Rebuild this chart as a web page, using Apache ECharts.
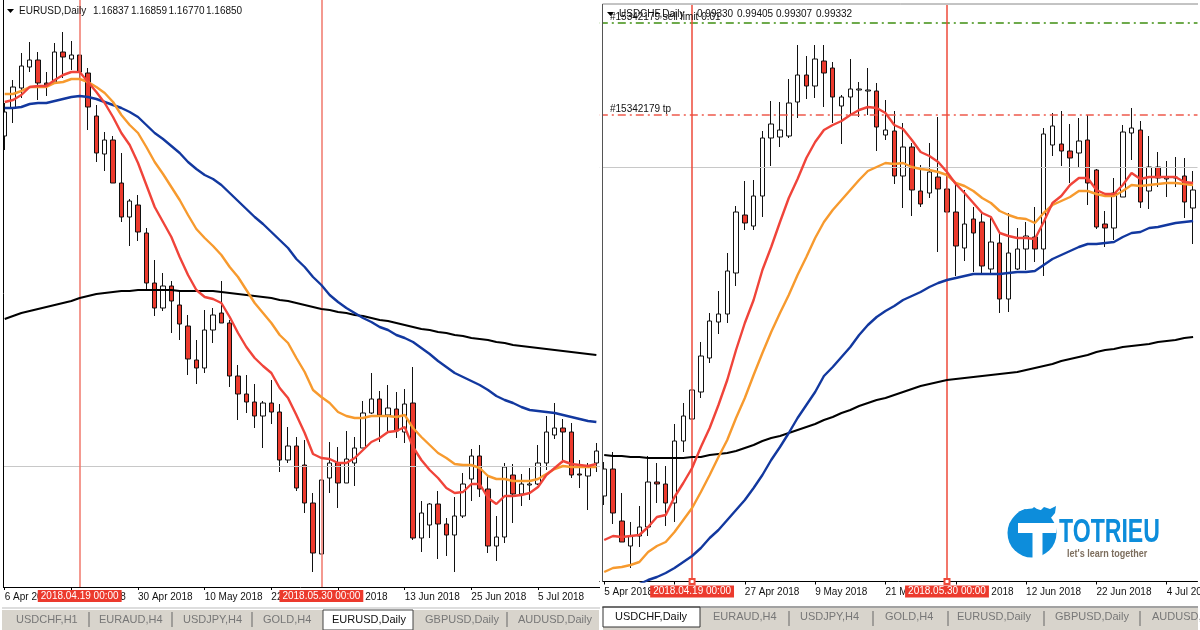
<!DOCTYPE html>
<html>
<head>
<meta charset="utf-8">
<title>EURUSD / USDCHF daily</title>
<style>
  html, body { margin: 0; padding: 0; background: #fff; }
  #chart { width: 1200px; height: 630px; }
</style>
<script src="https://cdn.jsdelivr.net/npm/echarts@6/dist/echarts.min.js"></script>
</head>
<body>
<div id="chart"></div>
<script>
// prices are in 1/10000 (1.2345 -> 12345)
const eurDates = ['6 Apr 2018','9 Apr 2018','10 Apr 2018','11 Apr 2018','12 Apr 2018','13 Apr 2018','16 Apr 2018','17 Apr 2018','18 Apr 2018','19 Apr 2018','20 Apr 2018','23 Apr 2018','24 Apr 2018','25 Apr 2018','26 Apr 2018','27 Apr 2018','30 Apr 2018',
  '1 May 2018','2 May 2018','3 May 2018','4 May 2018','7 May 2018','8 May 2018','9 May 2018','10 May 2018','11 May 2018','14 May 2018','15 May 2018','16 May 2018','17 May 2018','18 May 2018','21 May 2018','22 May 2018','23 May 2018','24 May 2018','25 May 2018','28 May 2018','29 May 2018','30 May 2018','31 May 2018',
  '1 Jun 2018','4 Jun 2018','5 Jun 2018','6 Jun 2018','7 Jun 2018','8 Jun 2018','11 Jun 2018','12 Jun 2018','13 Jun 2018','14 Jun 2018','15 Jun 2018','18 Jun 2018','19 Jun 2018','20 Jun 2018','21 Jun 2018','22 Jun 2018','25 Jun 2018','26 Jun 2018','27 Jun 2018','28 Jun 2018','29 Jun 2018',
  '2 Jul 2018','3 Jul 2018','4 Jul 2018','5 Jul 2018','6 Jul 2018','9 Jul 2018','10 Jul 2018','11 Jul 2018','12 Jul 2018','13 Jul 2018','16 Jul 2018']
const chfDates = ['5 Apr 2018'].concat(eurDates.slice(0, 67))

const eurOpen = [12345,12401,12441,12483,12497,12451,12453,12513,12499,12507,12471,12385,12309,12337,12251,12183,12207,12151,12051,12001,12045,12007,11965,11897,11881,11957,11991,11971,11865,11829,11813,11785,11811,11793,11697,11725,11687,11611,11509,11661,11691,11651,11691,11721,11791,11819,11787,11799,11753,11811,11541,11567,11609,11569,11547,11585,11659,11705,11639,11525,11543,11667,11629,11647,11649,11691,11747,11761,11753,11669,11665,11691]
const eurClose = [12393,12443,12485,12497,12451,12447,12513,12503,12507,12473,12403,12311,12337,12251,12183,12215,12153,12051,12001,12045,12015,11969,11899,11881,11957,11987,11971,11865,11829,11813,11785,11811,11793,11697,11725,11641,11611,11511,11657,11691,11651,11699,11721,11791,11819,11787,11801,11755,11809,11541,11591,11609,11569,11547,11585,11649,11705,11639,11525,11543,11683,11629,11649,11649,11691,11753,11761,11753,11667,11667,11683,11715]
const eurLow = [12317,12371,12421,12473,12417,12425,12451,12461,12477,12461,12357,12293,12275,12251,12173,12125,12135,12039,11985,11995,11951,11937,11867,11849,11871,11931,11971,11843,11777,11791,11761,11721,11769,11673,11691,11635,11591,11473,11509,11631,11601,11651,11645,11721,11789,11733,11751,11741,11731,11537,11513,11541,11499,11505,11473,11581,11615,11623,11511,11495,11531,11571,11605,11617,11647,11677,11739,11691,11661,11641,11597,11673]
const eurHigh = [12411,12457,12511,12533,12513,12473,12531,12553,12535,12507,12481,12407,12353,12345,12311,12219,12227,12161,12097,12071,12055,12035,11987,11937,11997,12001,12055,11977,11887,11867,11849,11815,11857,11809,11763,11743,11737,11631,11657,11733,11723,11755,11743,11815,11871,11835,11847,11833,11839,11883,11615,11611,11635,11581,11623,11671,11719,11727,11665,11585,11691,11689,11669,11681,11727,11785,11811,11779,11771,11697,11691,11731]
const eurRed = [12413,12417,12427,12443,12445,12445,12457,12467,12473,12473,12453,12433,12411,12383,12351,12327,12291,12247,12203,12173,12143,12103,12067,12037,12023,12019,12011,11983,11951,11923,11901,11885,11871,11841,11821,11787,11751,11709,11701,11699,11691,11691,11701,11717,11733,11741,11753,11755,11763,11723,11697,11677,11661,11641,11631,11633,11649,11649,11621,11609,11625,11625,11627,11631,11643,11667,11681,11695,11689,11687,11685,11689]
const eurOrange = [12429,12429,12435,12443,12443,12443,12451,12453,12459,12459,12453,12443,12431,12413,12387,12367,12351,12323,12293,12269,12243,12217,12187,12159,12141,12125,12107,12083,12063,12037,12011,11991,11971,11947,11931,11901,11873,11837,11823,11811,11793,11785,11781,11781,11785,11785,11785,11783,11787,11761,11743,11727,11711,11701,11689,11687,11687,11681,11665,11659,11659,11655,11655,11655,11659,11669,11679,11685,11683,11683,11683,11683]
const eurBlue = [12401,12401,12403,12409,12411,12411,12415,12419,12423,12425,12423,12419,12413,12407,12401,12393,12383,12367,12351,12339,12325,12311,12293,12279,12267,12259,12247,12231,12215,12199,12183,12169,12153,12137,12121,12099,12083,12063,12047,12027,12013,12001,11991,11981,11973,11963,11957,11947,11941,11933,11921,11909,11895,11883,11871,11863,11855,11847,11837,11825,11817,11811,11803,11797,11795,11793,11791,11787,11783,11779,11775,11773]
const eurBlack = [11979,11985,11991,11995,11999,12003,12007,12011,12015,12021,12025,12029,12031,12033,12035,12035,12037,12037,12037,12037,12037,12035,12035,12035,12035,12035,12033,12031,12029,12027,12025,12023,12021,12017,12015,12011,12007,12003,11999,11997,11993,11991,11987,11985,11981,11977,11975,11971,11967,11963,11959,11957,11953,11951,11947,11945,11941,11939,11937,11933,11931,11927,11925,11923,11921,11919,11917,11915,11913,11911,11909,11907]

const chfOpen = [9604,9631,9579,9554,9564,9573,9618,9616,9597,9659,9681,9708,9742,9778,9786,9827,9885,9874,9904,9962,9963,9964,9998,10025,10014,10039,10032,9994,10003,10010,10009,10009,9965,9969,9924,9953,9909,9907,9923,9911,9888,9852,9881,9878,9831,9857,9801,9831,9851,9863,9851,9955,9956,9949,9947,9960,9930,9876,9872,9903,9967,9970,9909,9933,9921,9922,9924,9892]
const chfClose = [9631,9587,9558,9564,9573,9618,9616,9597,9659,9684,9710,9744,9779,9786,9829,9888,9877,9904,9962,9976,9970,9997,10025,10014,10041,10027,10003,10003,10011,10011,10010,9973,9970,9924,9953,9910,9896,9928,9911,9888,9854,9876,9867,9834,9858,9801,9847,9851,9864,9851,9966,9974,9949,9942,9959,9917,9873,9872,9907,9968,9972,9898,9933,9922,9922,9923,9898,9910]
const chfLow = [9595,9576,9558,9532,9553,9564,9597,9574,9578,9648,9681,9702,9737,9766,9777,9814,9870,9870,9883,9934,9953,9962,9982,10001,10002,9993,9977,9956,9985,9983,9985,9949,9960,9916,9892,9884,9893,9902,9848,9888,9824,9839,9828,9827,9827,9787,9788,9830,9830,9838,9824,9944,9934,9917,9933,9895,9871,9853,9860,9903,9940,9892,9891,9913,9903,9913,9882,9856]
const chfHigh = [9638,9648,9607,9578,9594,9644,9637,9634,9676,9697,9710,9758,9787,9809,9847,9894,9919,9920,9969,9999,9998,10021,10055,10044,10055,10055,10038,10005,10041,10018,10032,10017,10000,9989,9977,9957,9935,9957,9983,9930,9917,9910,9893,9887,9882,9866,9887,9872,9878,9893,9972,9987,9989,9976,9982,9985,9931,9889,9922,9975,9992,9979,9964,9948,9939,9943,9942,9929]
const chfRed = [9560,9564,9563,9564,9565,9573,9583,9585,9603,9617,9632,9653,9672,9695,9720,9750,9777,9800,9830,9853,9878,9902,9921,9942,9958,9970,9975,9979,9985,9990,9993,9992,9987,9975,9971,9960,9948,9944,9938,9928,9916,9907,9897,9887,9883,9867,9864,9862,9862,9861,9878,9897,9904,9915,9922,9922,9910,9906,9906,9915,9927,9921,9923,9923,9923,9923,9918,9917]
const chfOrange = [9528,9532,9533,9535,9538,9548,9554,9558,9568,9580,9592,9608,9625,9643,9660,9682,9702,9725,9747,9768,9787,9805,9825,9843,9862,9878,9890,9900,9910,9920,9929,9933,9937,9936,9937,9933,9931,9930,9928,9925,9917,9914,9909,9902,9897,9889,9885,9882,9881,9877,9887,9895,9899,9903,9909,9909,9906,9904,9904,9909,9915,9914,9915,9916,9917,9917,9916,9915]
const chfBlue = [9500,9504,9508,9512,9516,9520,9523,9527,9532,9538,9544,9552,9562,9570,9580,9590,9600,9612,9625,9640,9653,9667,9682,9695,9708,9724,9733,9743,9753,9765,9775,9783,9789,9794,9800,9804,9808,9813,9817,9820,9822,9824,9826,9826,9826,9826,9827,9828,9828,9829,9835,9841,9845,9849,9853,9856,9856,9857,9858,9863,9867,9868,9872,9873,9875,9877,9878,9879]
const chfBlack = [9645,9644,9644,9643,9643,9642,9642,9642,9642,9642,9643,9643,9645,9646,9647,9649,9652,9655,9659,9662,9664,9667,9670,9673,9676,9680,9683,9687,9690,9694,9697,9700,9702,9705,9708,9711,9714,9716,9718,9720,9721,9722,9723,9724,9725,9726,9727,9728,9730,9732,9734,9736,9739,9741,9743,9745,9748,9750,9751,9753,9754,9755,9756,9758,9759,9760,9762,9763]

const eurBid = 11685
const chfBid = 9933
const chfTp = 9985
const chfSellLimit = 10077

const leftTabs = ['USDCHF,H1','EURAUD,H4','USDJPY,H4','GOLD,H4','EURUSD,Daily','GBPUSD,Daily','AUDUSD,Daily']
const rightTabs = ['USDCHF,Daily','EURAUD,H4','USDJPY,H4','GOLD,H4','EURUSD,Daily','GBPUSD,Daily','AUDUSD,Daily']

const FONT = '"Liberation Sans", Arial, sans-serif'
const RED = '#ec3a2d'

function candleData(open, close, low, high) {
  return open.map((o, i) => [o, close[i], low[i], high[i]])
}

function lineSeries(index, name, data, color, width) {
  return {
    name: name,
    type: 'line',
    xAxisIndex: index,
    yAxisIndex: index,
    data: data,
    symbol: 'none',
    z: 5,
    silent: true,
    animation: false,
    lineStyle: { color: color, width: width || 2.4 }
  }
}

// vertical time marker with its red date box on the axis
function timeMark(date, text, color, symbol, distance) {
  return {
    xAxis: date,
    symbol: symbol,
    symbolSize: 5,
    lineStyle: { color: color, width: 1.5, type: 'solid', opacity: 1 },
    label: {
      show: true,
      position: 'start',
      distance: distance,
      formatter: text,
      color: '#fff',
      fontFamily: FONT,
      fontSize: 10,
      lineHeight: 12,
      backgroundColor: RED,
      padding: [0, 3]
    }
  }
}

function levelMark(value, color, type, width) {
  return {
    yAxis: value,
    symbol: 'none',
    lineStyle: { color: color, width: width, type: type, opacity: 1 },
    label: { show: false }
  }
}

// empty line series that only carries the horizontal and vertical marker lines
function markSeries(index, marks) {
  return {
    type: 'line',
    xAxisIndex: index,
    yAxisIndex: index,
    data: [],
    z: 2,
    silent: true,
    animation: false,
    markLine: {
      silent: true,
      animation: false,
      symbol: 'none',
      data: marks
    }
  }
}

function candleSeries(index, data) {
  return {
    type: 'candlestick',
    xAxisIndex: index,
    yAxisIndex: index,
    data: data,
    barWidth: 5,
    z: 3,
    animation: false,
    silent: true,
    itemStyle: {
      color: '#fff',
      color0: RED,
      borderColor: '#111',
      borderColor0: '#111',
      borderWidth: 1
    }
  }
}

function xAxisOf(index, dates, margin) {
  return {
    type: 'category',
    gridIndex: index,
    data: dates,
    boundaryGap: true,
    axisLine: { show: true, onZero: false, lineStyle: { color: '#000', width: 1 } },
    axisTick: { show: true, alignWithLabel: true, interval: 7, length: 3, lineStyle: { color: '#000' } },
    axisLabel: {
      show: true,
      interval: 7,
      align: 'left',
      margin: margin,
      hideOverlap: false,
      color: '#111',
      fontFamily: FONT,
      fontSize: 10
    },
    splitLine: { show: false }
  }
}

function textEl(x, y, text, color, size) {
  return {
    type: 'text',
    x: x,
    y: y,
    z: 50,
    silent: true,
    style: { text: text, fill: color, font: size + 'px ' + FONT, textVerticalAlign: 'middle' }
  }
}

function rectEl(x, y, w, h, fill, stroke) {
  return {
    type: 'rect',
    silent: true,
    z: 40,
    shape: { x: x, y: y, width: w, height: h },
    style: { fill: fill, stroke: stroke || null, lineWidth: 1 }
  }
}

function lineEl(x1, y1, x2, y2, color) {
  return {
    type: 'line',
    silent: true,
    z: 45,
    shape: { x1: x1, y1: y1, x2: x2, y2: y2 },
    style: { stroke: color, lineWidth: 1 }
  }
}

function chromeElements() {
  let els = []
  // left panel frame and header
  els.push(rectEl(0, 0, 3, 590, '#fff'))
  els.push(lineEl(3.5, 0, 3.5, 587, '#000'))
  els.push({ type: 'polygon', silent: true, z: 50, shape: { points: [[7, 9], [14, 9], [10.5, 13]] }, style: { fill: '#000' } })
  els.push(textEl(19, 11, 'EURUSD,Daily', '#111', 10))
  els.push(textEl(93, 11, '1.16837', '#111', 10))
  els.push(textEl(131, 11, '1.16859', '#111', 10))
  els.push(textEl(168.5, 11, '1.16770', '#111', 10))
  els.push(textEl(206, 11, '1.16850', '#111', 10))

  // gap between the panels
  els.push(rectEl(600, 0, 2, 630, '#fff'))

  // right panel frame and header
  els.push(lineEl(602.5, 4, 1198, 4, '#888'))
  els.push(lineEl(602.5, 4, 602.5, 582, '#555'))
  els.push({ type: 'polygon', silent: true, z: 50, shape: { points: [[607, 12], [614, 12], [610.5, 16]] }, style: { fill: '#000' } })
  els.push(textEl(619, 14, 'USDCHF,Daily', '#111', 10))
  els.push(textEl(697, 14, '0.99330', '#111', 10))
  els.push(textEl(737, 14, '0.99405', '#111', 10))
  els.push(textEl(776, 14, '0.99307', '#111', 10))
  els.push(textEl(816, 14, '0.99332', '#111', 10))
  els.push(textEl(610, 17, '#15342179 sell limit 0.01', '#111', 10))
  els.push(textEl(610, 109, '#15342179 tp', '#111', 10))

  // left tabs
  els.push(lineEl(2, 608, 600, 608, '#bbb'))
  els.push(rectEl(2, 610, 597, 20, '#d8d4cc'))
  els.push(rectEl(323, 610, 90, 20, '#fff', '#444'))
  const leftX = [16, 99, 183, 263, 332, 425, 518]
  leftTabs.forEach((t, i) => {
    els.push(textEl(leftX[i], 620, t, i == 4 ? '#111' : '#777', 11))
  })
  ;[89, 172, 252, 507].forEach(x => els.push(lineEl(x, 612, x, 627, '#666')))

  // right tabs
  els.push(lineEl(602, 607, 1198, 607, '#444'))
  els.push(rectEl(603, 608, 595, 22, '#d8d4cc'))
  els.push(rectEl(603, 607, 97, 20, '#fff', '#333'))
  const rightX = [615, 713, 800, 885, 957, 1055, 1152]
  rightTabs.forEach((t, i) => {
    els.push(textEl(rightX[i], 617, t, i == 0 ? '#111' : '#777', 11))
  })
  ;[789, 873, 948, 1044, 1140].forEach(x => els.push(lineEl(x, 611, x, 626, '#666')))
  els.push(rectEl(1198, 600, 2, 30, '#fff'))

  // logo
  els.push({ type: 'circle', silent: true, z: 50, shape: { cx: 1032, cy: 533, r: 24.5 }, style: { fill: '#0d8ddb' } })
  els.push({ type: 'polygon', silent: true, z: 50, shape: { points: [[1018, 512], [1025, 509], [1030, 511], [1034, 507], [1040, 511], [1044, 507], [1050, 509], [1056, 506], [1055, 513], [1050, 519], [1052, 523], [1030, 523]] }, style: { fill: '#0d8ddb' } })
  els.push(rectEl(1018, 523, 38, 10, '#fff'))
  els[els.length - 1].z = 51
  els.push(rectEl(1032.5, 533, 10, 27, '#fff'))
  els[els.length - 1].z = 51
  els.push({
    type: 'text', silent: true, z: 52, x: 1059, y: 533, scaleX: 0.7,
    style: { text: 'TOTRIEU', fill: '#0d8ddb', font: 'bold 33px "Liberation Sans", sans-serif', textVerticalAlign: 'middle' }
  })
  els.push({
    type: 'text', silent: true, z: 52, x: 1067, y: 554, scaleX: 0.82,
    style: { text: "let's learn together", fill: '#7d6e5e', font: 'bold 11px "Liberation Sans", sans-serif', textVerticalAlign: 'middle' }
  })
  return els
}

function getOption() {
  return {
    backgroundColor: '#fff',
    animation: false,
    grid: [
      { left: 0.53, top: 0, width: 600, height: 587, outerBoundsMode: 'none' },
      { left: 599.8, top: 5, width: 597.7, height: 576.5, outerBoundsMode: 'none' }
    ],
    xAxis: [xAxisOf(0, eurDates, 5), xAxisOf(1, chfDates, 6)],
    yAxis: [
      { type: 'value', gridIndex: 0, show: false, min: 11443, max: 12617, splitLine: { show: false } },
      { type: 'value', gridIndex: 1, show: false, min: 9518.5, max: 10095, splitLine: { show: false } }
    ],
    series: [
      markSeries(0, [
        levelMark(eurBid, '#c8c8c8', 'solid', 1),
        timeMark('19 Apr 2018', '2018.04.19 00:00', '#f0776b', 'none', 3),
        timeMark('30 May 2018', '2018.05.30 00:00', '#f0776b', 'none', 3)
      ]),
      candleSeries(0, candleData(eurOpen, eurClose, eurLow, eurHigh)),
      lineSeries(0, 'black', eurBlack, '#000', 2),
      lineSeries(0, 'blue', eurBlue, '#12389f'),
      lineSeries(0, 'orange', eurOrange, '#f79a2e'),
      lineSeries(0, 'red', eurRed, '#f0443a'),
      markSeries(1, [
        levelMark(chfBid, '#c8c8c8', 'solid', 1),
        levelMark(chfTp, '#ee5a4c', [8, 4, 2, 4], 1.5),
        levelMark(chfSellLimit, '#3f8f12', [8, 4, 2, 4], 1.5),
        timeMark('19 Apr 2018', '2018.04.19 00:00', '#ee4a3a', 'emptyRect', 4),
        timeMark('30 May 2018', '2018.05.30 00:00', '#ee4a3a', 'emptyRect', 4)
      ]),
      candleSeries(1, candleData(chfOpen, chfClose, chfLow, chfHigh)),
      lineSeries(1, 'black', chfBlack, '#000', 2),
      lineSeries(1, 'blue', chfBlue, '#12389f'),
      lineSeries(1, 'orange', chfOrange, '#f79a2e'),
      lineSeries(1, 'red', chfRed, '#f0443a')
    ],
    graphic: { elements: chromeElements() }
  }
}

const chart = echarts.init(document.getElementById('chart'), null, { renderer: 'canvas' })
chart.setOption(getOption())
</script>
</body>
</html>
